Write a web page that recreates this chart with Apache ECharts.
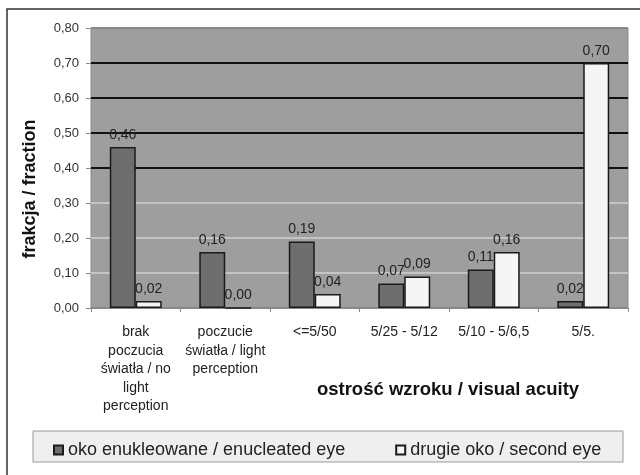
<!DOCTYPE html>
<html>
<head>
<meta charset="utf-8">
<script src="https://cdn.jsdelivr.net/npm/echarts@6/dist/echarts.min.js"></script>
<style>html,body{margin:0;padding:0;background:#fff}#c{width:640px;height:475px}</style>
</head>
<body>
<div id="c"></div>
<script>
var categories = ["brak\npoczucia\nświatła / no\nlight\nperception", "poczucie\nświatła / light\nperception", "<=5/50", "5/25 - 5/12", "5/10 - 5/6,5", "5/5."];
var seriesNames = ["oko enukleowane / enucleated eye", "drugie oko / second eye"];
var enucleatedEye = [0.46, 0.16, 0.19, 0.07, 0.11, 0.02];
var secondEye = [0.02, 0.00, 0.04, 0.09, 0.16, 0.70];
var yTicks = [0, 0.1, 0.2, 0.3, 0.4, 0.5, 0.6, 0.7, 0.8];
var yTitle = "frakcja / fraction";
var xTitle = "ostrość wzroku / visual acuity";

var FONT = "'Liberation Sans', Arial, sans-serif";
function fmt(v){ return Number(v).toFixed(2).replace('.', ','); }

var chart = echarts.init(document.getElementById('c'), null, {renderer: 'canvas'});
chart.setOption({
  animation: false,
  backgroundColor: '#ffffff',
  textStyle: {fontFamily: FONT},
  grid: {left: 91, right: 12, top: 28, bottom: 167, show: true, backgroundColor: '#9e9e9e', borderColor: '#888', borderWidth: 1},
  legend: {
    data: seriesNames, left: 48, top: 436, itemWidth: 9, itemHeight: 9, itemGap: 50,
    icon: 'rect',
    textStyle: {fontSize: 18, color: '#222', fontFamily: FONT}
  },
  xAxis: {
    type: 'category', data: categories,
    axisLine: {show: true, lineStyle: {color: '#888'}},
    axisTick: {show: true, length: 4, lineStyle: {color: '#888'}},
    axisLabel: {fontSize: 14, lineHeight: 18.5, color: '#222', margin: 15, interval: 0, fontFamily: FONT}
  },
  yAxis: {
    type: 'value', min: yTicks[0], max: yTicks[yTicks.length-1], interval: 0.1,
    axisLine: {show: false},
    axisTick: {show: true, length: 5, lineStyle: {color: '#888'}},
    axisLabel: {fontSize: 13, color: '#333', margin: 12, formatter: fmt, fontFamily: FONT},
    splitLine: {show: true, lineStyle: {width: 2, color: ['#888', '#c4c4c4', '#c4c4c4', '#c4c4c4', '#111', '#111', '#111', '#111', '#888']}}
  },
  series: [
    {
      name: seriesNames[0], type: 'bar', data: enucleatedEye, barGap: '0%', barCategoryGap: '42%',
      itemStyle: {color: '#6e6e6e', borderColor: '#1a1a1a', borderWidth: 1.5},
      label: {show: true, position: 'top', distance: 5, formatter: function(p){return fmt(p.value);}, fontSize: 14, color: '#222', fontFamily: FONT}
    },
    {
      name: seriesNames[1], type: 'bar', data: secondEye,
      itemStyle: {color: '#f5f5f5', borderColor: '#1a1a1a', borderWidth: 1.5},
      label: {show: true, position: 'top', distance: 5, formatter: function(p){return fmt(p.value);}, fontSize: 14, color: '#222', fontFamily: FONT}
    }
  ],
  graphic: [
    {type: 'rect', z: -10, shape: {x: 7, y: 9, width: 650, height: 480}, style: {fill: null, stroke: '#333', lineWidth: 1.5}},
    {type: 'rect', z: -5, shape: {x: 33, y: 431, width: 590, height: 31}, style: {fill: '#efefef', stroke: '#9a9a9a', lineWidth: 1}},
    {type: 'text', x: 30, y: 189, rotation: Math.PI/2, style: {text: yTitle, font: 'bold 18px ' + FONT, fill: '#111', textAlign: 'center', textVerticalAlign: 'middle'}},
    {type: 'text', x: 448, y: 390, style: {text: xTitle, font: 'bold 18.5px ' + FONT, fill: '#111', textAlign: 'center', textVerticalAlign: 'middle'}}
  ]
});
</script>
</body>
</html>
